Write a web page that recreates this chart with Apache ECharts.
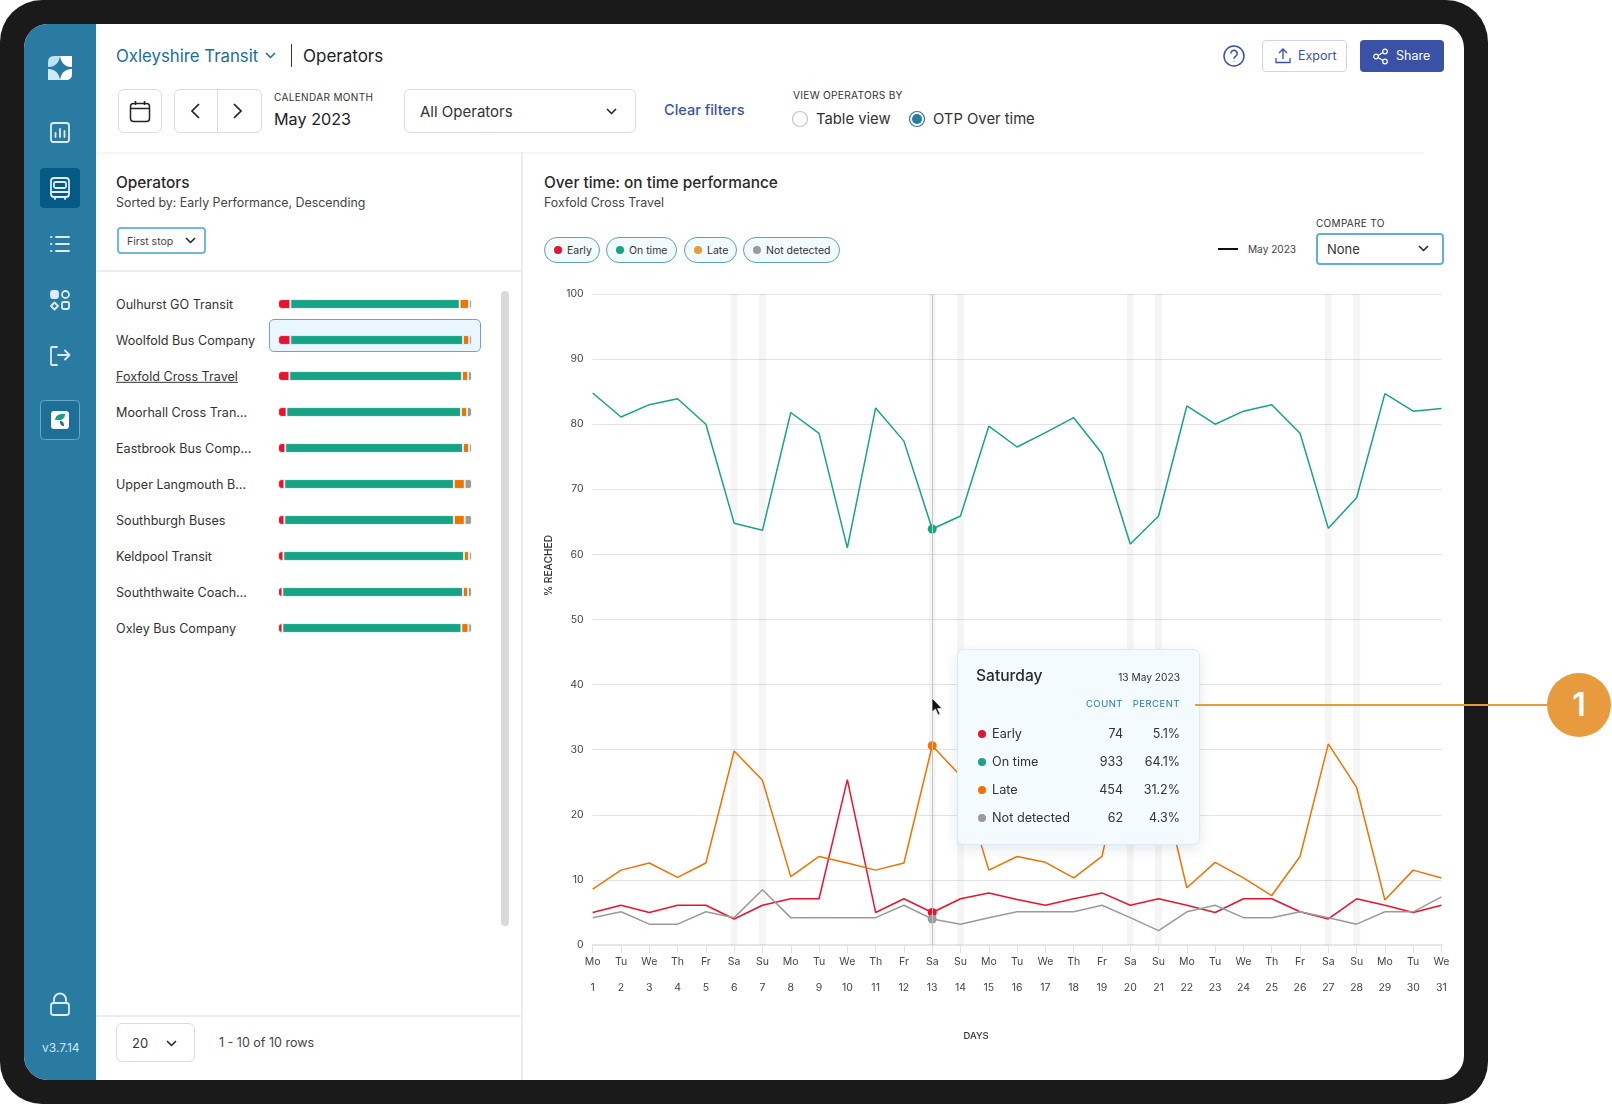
<!DOCTYPE html>
<html>
<head>
<meta charset="utf-8">
<title>Operators</title>
<script src="https://cdn.jsdelivr.net/npm/echarts@6/dist/echarts.min.js"></script>
<style>
html,body{margin:0;padding:0;background:#fff;width:1612px;height:1104px;overflow:hidden;font-family:Inter,"Noto Sans",sans-serif;color:#2b2b2b}
.a{position:absolute;white-space:nowrap}
.t{position:absolute;white-space:nowrap;line-height:1;transform:translateY(-50%)}
.box{position:absolute;box-sizing:border-box;border:1.5px solid #dcdcdc;border-radius:6px;background:#fff}
.rule{position:absolute;background:#ececec}
svg{position:absolute;overflow:visible;fill:none}
.side{stroke:#dcecf3;stroke-width:1.8;stroke-linecap:round;stroke-linejoin:round}
.chip{position:absolute;top:237px;height:26px;box-sizing:border-box;border:1px solid #5f9fbf;border-radius:13px;background:#f1fafd;font-size:10.5px;line-height:25.5px;color:#333;padding-left:22px}
.chip i{position:absolute;left:9px;top:8px;width:8px;height:8px;border-radius:50%}
#tip{position:absolute;left:957px;top:649px;width:243px;height:196px;box-sizing:border-box;background:#f3fbfe;border:1px solid #d6edf8;border-radius:7px;box-shadow:0 4px 14px rgba(60,100,130,.14)}
</style>
</head>
<body>
<!-- device frame -->
<div class="a" style="left:0;top:0;width:1488px;height:1104px;background:#1a1a1a;border-radius:42px"></div>
<div class="a" style="left:24px;top:24px;width:1440px;height:1056px;background:#fff;border-radius:24px;overflow:hidden">
  <div class="a" style="left:0;top:0;width:72px;height:1056px;background:#2a7ba2"></div>
</div>

<!-- sidebar -->
<svg style="left:0;top:0" width="96" height="1104">
  <g transform="translate(48,56)">
    <path d="M0 11 C8 11 11 6 12 0 L6 0 Q0 0 0 6Z" fill="#bfe3f3"/>
    <path d="M24 0 V11 C16 11 13 6 12 0Z" fill="#fff"/>
    <path d="M0 13 C8 13 11 18 12 24 H0Z" fill="#cfeaf6"/>
    <path d="M24 13 C16 13 13 18 12 24 H18 Q24 24 24 18Z" fill="#fff"/>
  </g>
  <g class="side">
    <rect x="51" y="123" width="18" height="19" rx="2.5"/><path d="M55.5 137v-4M60 137v-8M64.500 137v-6"/>
  </g>
  <rect x="40" y="168" width="40" height="40" rx="4" fill="#045a85"/>
  <g class="side">
    <rect x="51" y="178" width="18" height="19" rx="3"/><rect x="54" y="182" width="12" height="6" rx="1.5"/><path d="M51 192h18M55 197v2M65 197v2"/>
    <path d="M56 237h13M56 244h13M56 251h13M51 237h.5M51 244h.5M51 251h.5"/>
    <rect x="51" y="291" width="7" height="7" rx="2" fill="#dcecf3"/><circle cx="65.5" cy="294.5" r="3.5"/><path d="M54.5 302.5l3.5 3.5l-3.5 3.5l-3.5-3.5z"/><rect x="62" y="302" width="7" height="7" rx="1.5"/>
    <path d="M57 347h-5a1 1 0 0 0-1 1v16a1 1 0 0 0 1 1h5M58 355h11M65 350.500l4.500 4.500l-4.500 4.500"/>
  </g>
  <rect x="40.500" y="400.500" width="39" height="39" rx="4" fill="#1d6f97" stroke="#6aa8c7"/>
  <rect x="51" y="411" width="18" height="18" rx="3" fill="#fff"/>
  <path d="M55 420 C56 414 60 414 65 414 C65 418 62 420 60 420Z" fill="#17a386"/>
  <path d="M60 421 C63 421 64 423 64 426 C61 426 60 424 60 421Z" fill="#1a6f97"/>
  <g class="side">
    <rect x="51" y="1003" width="18" height="12" rx="2.500"/><path d="M54 1003v-3.500a6 6 0 0 1 12 0v3.500"/>
  </g>
</svg>
<div class="t" style="left:42px;top:1048px;font-size:12px;color:#d3e6ef">v3.7.14</div>

<!-- header -->
<div class="t" style="left:116px;top:56px;font-size:16.8px;color:#1a6f97">Oxleyshire Transit</div>
<svg style="left:265px;top:52px" width="12" height="8"><path d="M1 1l4.500 4.500L10 1" stroke="#1a6f97" stroke-width="1.500"/></svg>
<div class="rule" style="left:291px;top:44px;width:1px;height:23px;background:#333"></div>
<div class="t" style="left:303px;top:56px;font-size:17px;color:#222">Operators</div>

<div class="box" style="left:118px;top:89px;width:44px;height:44px"></div>
<svg style="left:130px;top:101px" width="20" height="21"><rect x="0.500" y="2.500" width="19" height="18" rx="3" stroke="#222" stroke-width="1.500"/><path d="M0.500 7.500h19M5.500 0v4M14.500 0v4" stroke="#222" stroke-width="1.500"/></svg>
<div class="box" style="left:174px;top:89px;width:88px;height:44px"></div>
<div class="rule" style="left:217px;top:90px;width:1px;height:42px;background:#dcdcdc"></div>
<svg style="left:191px;top:103px" width="60" height="16"><path d="M8 1L1 8l7 7M43 1l7 7l-7 7" stroke="#222" stroke-width="1.700"/></svg>
<div class="t" style="left:274px;top:97px;font-size:10px;letter-spacing:.35px;color:#333">CALENDAR MONTH</div>
<div class="t" style="left:274px;top:119px;font-size:16.2px;color:#222">May 2023</div>
<div class="box" style="left:404px;top:89px;width:232px;height:44px"></div>
<div class="t" style="left:420px;top:111px;font-size:15px;color:#333">All Operators</div>
<svg style="left:606px;top:108px" width="12" height="8"><path d="M1 1l4.500 4.500L10 1" stroke="#222" stroke-width="1.500"/></svg>
<div class="t" style="left:664px;top:110px;font-size:14.500px;font-weight:500;color:#3a52a6">Clear filters</div>
<div class="t" style="left:793px;top:95px;font-size:10.200px;letter-spacing:.25px;color:#333">VIEW OPERATORS BY</div>
<svg style="left:792px;top:111px" width="140" height="16"><circle cx="8" cy="8" r="7.500" stroke="#c6c6c6" stroke-width="1.200" fill="#fff"/><circle cx="125" cy="8" r="7.500" stroke="#2a7ba2" stroke-width="1.200" fill="#fff"/><circle cx="125" cy="8" r="5" fill="#2a7ba2"/></svg>
<div class="t" style="left:816px;top:119px;font-size:14.800px;color:#333">Table view</div>
<div class="t" style="left:933px;top:119px;font-size:14.800px;color:#333">OTP Over time</div>

<svg style="left:1223px;top:45px" width="22" height="22"><circle cx="11" cy="11" r="10" stroke="#3a52a6" stroke-width="1.500"/><path d="M7.800 8.500a3.200 3.200 0 1 1 4.800 2.800c-1 .6-1.600 1.200-1.600 2.400M11 16.200v.6" stroke="#3a52a6" stroke-width="1.500"/></svg>
<div class="box" style="left:1262px;top:40px;width:85px;height:32px;border-color:#cbd5ef;border-radius:4px"></div>
<svg style="left:1275px;top:48px" width="16" height="16"><path d="M8 11V1.500M4 5l4-4l4 4M1 10v4.500h14V10" stroke="#3a52a6" stroke-width="1.300"/></svg>
<div class="t" style="left:1298px;top:56px;font-size:12.500px;color:#3a52a6">Export</div>
<div class="a" style="left:1360px;top:40px;width:84px;height:32px;background:#3a52a5;border-radius:4px"></div>
<svg style="left:1373px;top:49px" width="15" height="15"><circle cx="3" cy="7.500" r="2.300" stroke="#fff" stroke-width="1.200"/><circle cx="12" cy="2.500" r="2.300" stroke="#fff" stroke-width="1.200"/><circle cx="12" cy="12.500" r="2.300" stroke="#fff" stroke-width="1.200"/><path d="M5 6.400l5-2.800M5 8.600l5 2.800" stroke="#fff" stroke-width="1.200"/></svg>
<div class="t" style="left:1396px;top:56px;font-size:12.500px;color:#fff">Share</div>

<div class="rule" style="left:96px;top:152px;width:1328px;height:2px;background:#f5f5f5"></div>
<div class="rule" style="left:521px;top:152px;width:2px;height:928px"></div>

<!-- left panel -->
<div class="t" style="left:116px;top:183px;font-size:15.400px;font-weight:500;color:#2a2a2a">Operators</div>
<div class="t" style="left:116px;top:203px;font-size:12.400px;color:#444">Sorted by: Early Performance, Descending</div>
<div class="box" style="left:117px;top:227px;width:89px;height:27px;border:2px solid #70b8dc;border-radius:4px"></div>
<div class="t" style="left:127px;top:242px;font-size:10.500px;color:#444">First stop</div>
<svg style="left:185px;top:237px" width="12" height="8"><path d="M1 1l4.500 4.500L10 1" stroke="#222" stroke-width="1.500"/></svg>
<div class="rule" style="left:96px;top:270px;width:425px;height:2px"></div>
<div class="a" id="rowHighlight" style="left:269px;top:319px;width:212px;height:33px;box-sizing:border-box;background:#e9f6fd;border:1px solid #6aa6c6;border-radius:5px"></div>
<div id="names"></div>
<div id="barChart" class="a" style="left:270px;top:286px;width:210px;height:360px"></div>
<div class="a" style="left:501px;top:291px;width:8px;height:635px;background:#d9d9d9;border-radius:4px"></div>
<div class="rule" style="left:96px;top:1015px;width:425px;height:1.500px"></div>
<div class="box" style="left:116px;top:1023px;width:79px;height:39px"></div>
<div class="t" style="left:132px;top:1043px;font-size:13px;color:#333">20</div>
<svg style="left:166px;top:1040px" width="12" height="8"><path d="M1 1l4.500 4.500L10 1" stroke="#222" stroke-width="1.500"/></svg>
<div class="t" style="left:219px;top:1043px;font-size:12.500px;color:#444">1 - 10 of 10 rows</div>

<!-- right panel -->
<div class="t" style="left:544px;top:183px;font-size:15.400px;font-weight:500;color:#2a2a2a">Over time: on time performance</div>
<div class="t" style="left:544px;top:203px;font-size:12.400px;color:#444">Foxfold Cross Travel</div>
<div id="chips"></div>
<div class="a" style="left:1218px;top:248px;width:20px;height:2px;background:#111"></div>
<div class="t" style="left:1248px;top:249px;font-size:10.100px;color:#444">May 2023</div>
<div class="t" style="left:1316px;top:223px;font-size:10px;letter-spacing:.3px;color:#333">COMPARE TO</div>
<div class="box" style="left:1316px;top:233px;width:128px;height:32px;border:2px solid #5fb0d8;border-radius:4px"></div>
<div class="t" style="left:1327px;top:249px;font-size:13px;color:#333">None</div>
<svg style="left:1418px;top:245px" width="12" height="8"><path d="M1 1l4.500 4.500L10 1" stroke="#222" stroke-width="1.500"/></svg>

<div id="lineChart" class="a" style="left:530px;top:270px;width:930px;height:790px"></div>
<div id="tip"></div>
<svg style="left:931px;top:697px" width="14" height="20"><path d="M1 1v14l3.500-3l2.500 6l2-1l-2.500-5.500h4.500z" fill="#111" stroke="#fff" stroke-width=".7"/></svg>

<!-- callout -->
<div class="a" style="left:1195px;top:704px;width:354px;height:2px;background:#e89b3c"></div>
<div class="a" style="left:1547px;top:673px;width:64px;height:64px;border-radius:50%;background:#e89b3c;color:#fff;font-size:32px;font-weight:600;line-height:64px;text-align:center">1</div>

<script>
// chart data
var weekDays = ['Mo','Tu','We','Th','Fr','Sa','Su','Mo','Tu','We','Th','Fr','Sa','Su','Mo','Tu','We','Th','Fr','Sa','Su','Mo','Tu','We','Th','Fr','Sa','Su','Mo','Tu','We'];
var dayNumbers = [1,2,3,4,5,6,7,8,9,10,11,12,13,14,15,16,17,18,19,20,21,22,23,24,25,26,27,28,29,30,31];
var weekendDays = [6,7,13,14,20,21,27,28];
var yTicks = [0,10,20,30,40,50,60,70,80,90,100];
var early = [5,6.1,5,6.1,6.1,4,6.1,7.1,7.1,25.4,5,7.1,5,7.1,8,7,6.1,7.1,8,6.1,7.1,6.1,5,7.1,7.1,5.1,4,7.1,6.1,5,6.1];
var onTime = [84.8,81.1,83,83.9,80,64.8,63.7,81.8,78.6,61,82.5,77.4,63.9,65.9,79.7,76.5,78.7,81,75.5,61.6,65.9,82.8,80,82,83,78.6,64,68.7,84.7,82,82.4];
var late = [8.6,11.5,12.6,10.4,12.6,29.8,25.3,10.5,13.6,12.6,11.5,12.6,30.6,26,11.5,13.6,12.7,10.3,13.6,33,27,8.8,12.7,10.3,7.6,13.6,30.9,24.2,6.9,11.5,10.3];
var notDetected = [4.2,5.1,3.2,3.2,5.1,4.2,8.5,4.2,4.2,4.2,4.2,6.1,4,3.2,4.2,5.1,5.1,5.1,6.1,4.2,2.2,5.1,6.1,4.2,4.2,5.1,4.2,3.2,5.1,5.1,7.4];

var statusNames = ['Early','On time','Late','Not detected'];
var statusColors = ['#e8132f','#17a386','#f07300','#9a9a9a'];
var chipDots = ['#e8132f','#17a386','#ec9a35','#9a9a9a'];
var chipLeft = [544,606,684,743];
var chipWidth = [56,71,53,97];

// hovered day, the tooltip figures
var selectedIndex = 12;
var tipCounts = [74,933,454,62];
var tipPercents = ['5.1%','64.1%','31.2%','4.3%'];

// operators list
var operatorLabels = ['Oulhurst GO Transit','Woolfold Bus Company','Foxfold Cross Travel','Moorhall Cross Tran…','Eastbrook Bus Comp…','Upper Langmouth B…','Southburgh Buses','Keldpool Transit','Souththwaite Coach…','Oxley Bus Company'];
var opEarly = [6.3,6.3,5.8,4.3,3.7,3.2,3.2,2.7,2.2,2.2];
var opOnTime = [87.4,89.1,89.1,90.1,91.7,87.5,87.5,93.2,93.2,92.4];
var opLate = [4.8,3.2,3.1,3.1,3.1,5.6,5.6,2.6,2.6,3.6];
var opNotDetected = [1.5,1.4,2,2.5,1.5,3.7,3.7,1.5,2,1.8];

// html bits: names, chips, tooltip
var namesHtml = '';
for (var i = 0; i < operatorLabels.length; i++) {
    namesHtml += '<div class="t" style="left:116px;top:' + (305 + i * 36) + 'px;font-size:12.6px;color:#333;line-height:1.3;' +
        (i == 2 ? 'text-decoration:underline;' : '') + '">' + operatorLabels[i] + '</div>';
}
document.getElementById('names').innerHTML = namesHtml;

var chipsHtml = '';
for (var i = 0; i < statusNames.length; i++) {
    chipsHtml += '<div class="chip" style="left:' + chipLeft[i] + 'px;width:' + chipWidth[i] + 'px"><i style="background:' + chipDots[i] + '"></i>' + statusNames[i] + '</div>';
}
document.getElementById('chips').innerHTML = chipsHtml;

var tipHtml = '<div class="t" style="left:18px;top:26px;font-size:15.6px;font-weight:500;color:#2a2a2a">Saturday</div>' +
    '<div class="t" style="right:19px;top:27px;font-size:10.2px;color:#333">13 May 2023</div>' +
    '<div class="t" style="right:76px;top:54px;font-size:9.5px;letter-spacing:.5px;color:#2a7ba2">COUNT</div>' +
    '<div class="t" style="right:19px;top:54px;font-size:9.5px;letter-spacing:.5px;color:#2a7ba2">PERCENT</div>';
for (var i = 0; i < statusNames.length; i++) {
    var rowY = 84 + i * 28;
    tipHtml += '<div class="a" style="left:20px;top:' + (rowY - 4) + 'px;width:8px;height:8px;border-radius:50%;background:' + statusColors[i] + '"></div>' +
        '<div class="t" style="left:34px;top:' + rowY + 'px;font-size:12.7px;color:#333">' + statusNames[i] + '</div>' +
        '<div class="t" style="right:76px;top:' + rowY + 'px;font-size:12.5px;color:#333">' + tipCounts[i] + '</div>' +
        '<div class="t" style="right:19px;top:' + rowY + 'px;font-size:12.5px;color:#333">' + tipPercents[i] + '</div>';
}
document.getElementById('tip').innerHTML = tipHtml;

// main line chart
var xLabels = [];
var bandData = [];
for (var i = 0; i < dayNumbers.length; i++) {
    xLabels.push(weekDays[i] + '\n' + dayNumbers[i]);
    bandData.push(weekendDays.indexOf(dayNumbers[i]) >= 0 ? 100 : '-');
}

function lineSeries(name, values, color, extra) {
    var s = {
        name: name,
        type: 'line',
        data: values,
        z: 3,
        symbol: 'circle',
        symbolSize: function (v, p) { return p.dataIndex == selectedIndex ? 9 : 0; },
        itemStyle: { color: color },
        lineStyle: { color: color, width: 1.5 }
    };
    if (extra) s.markLine = extra;
    return s;
}

var myChart = echarts.init(document.getElementById('lineChart'));
var option = {
    animation: false,
    textStyle: { fontFamily: 'Inter' },
    grid: { left: 62.7, right: 18.5, top: 24, bottom: 115, outerBoundsMode: 'none' },
    xAxis: {
        type: 'category',
        data: xLabels,
        boundaryGap: false,
        name: 'DAYS',
        nameLocation: 'middle',
        nameGap: 86,
        nameTextStyle: { fontSize: 9.5, fontWeight: 500, color: '#333', padding: [0, 82, 0, 0] },
        axisLine: { lineStyle: { color: '#e6e6e6', width: 2 } },
        axisTick: { length: 8, lineStyle: { color: '#e2e2e2' } },
        axisLabel: { interval: 0, fontSize: 10.5, color: '#444', lineHeight: 25.5, margin: 4.5 },
        splitLine: { show: false }
    },
    yAxis: {
        type: 'value',
        min: yTicks[0],
        max: yTicks[yTicks.length - 1],
        interval: yTicks[1] - yTicks[0],
        name: '% REACHED',
        nameLocation: 'middle',
        nameGap: 39,
        nameTextStyle: { fontSize: 10.2, fontWeight: 500, color: '#333', padding: [0, 0, 0, 108] },
        axisLine: { show: false },
        axisTick: { show: false },
        axisLabel: { fontSize: 10.5, color: '#444', margin: 9, padding: [2, 0, 0, 0] },
        splitLine: { lineStyle: { color: '#e3e3e3', width: 1 } }
    },
    series: [
        { name: 'Weekend', type: 'bar', data: bandData, barWidth: 7, z: 1, silent: true, itemStyle: { color: 'rgba(0,0,0,0.04)' } },
        lineSeries(statusNames[0], early, statusColors[0], {
            silent: true,
            symbol: 'none',
            label: { show: false },
            lineStyle: { color: '#c4c4c4', width: 1, type: 'solid' },
            data: [{ xAxis: selectedIndex }]
        }),
        lineSeries(statusNames[1], onTime, statusColors[1]),
        lineSeries(statusNames[2], late, statusColors[2]),
        lineSeries(statusNames[3], notDetected, statusColors[3])
    ]
};
myChart.setOption(option);

// operator bars
function barSeries(name, values, color, radius) {
    var items = [];
    for (var i = 0; i < values.length; i++) {
        // row 2 sits on the highlight, so its gaps take that colour
        items.push({ value: values[i], itemStyle: { borderColor: i == 1 ? '#e9f6fd' : '#fff' } });
    }
    return {
        name: name,
        type: 'bar',
        stack: 'op',
        data: items,
        barWidth: 9.7,
        itemStyle: { color: color, borderWidth: 0.85, borderRadius: radius }
    };
}

var barChart = echarts.init(document.getElementById('barChart'));
barChart.setOption({
    animation: false,
    grid: { left: 8.15, right: 8.15, top: 0, bottom: 0, outerBoundsMode: 'none' },
    xAxis: { type: 'value', min: 0, max: 100, show: false },
    yAxis: { type: 'category', inverse: true, data: operatorLabels, show: false },
    series: [
        barSeries(statusNames[0], opEarly, statusColors[0], [3, 0, 0, 3]),
        barSeries(statusNames[1], opOnTime, statusColors[1], 0),
        barSeries(statusNames[2], opLate, statusColors[2], 0),
        barSeries(statusNames[3], opNotDetected, statusColors[3], [0, 2, 2, 0])
    ]
});

window.onresize = function () {
    myChart.resize();
    barChart.resize();
};
</script>
</body>
</html>
